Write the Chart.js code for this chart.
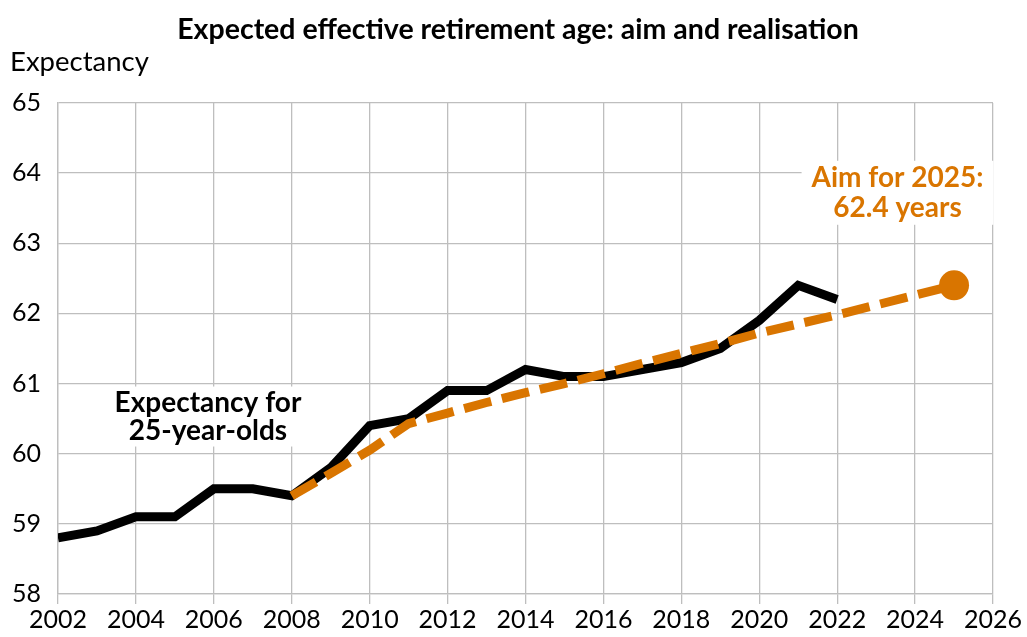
<!DOCTYPE html>
<html>
<head>
<meta charset="utf-8">
<script src="https://cdn.jsdelivr.net/npm/chart.js@4/dist/chart.umd.min.js"></script>
<style>
  html, body { margin: 0; padding: 0; background: #fff; overflow: hidden; }
  canvas { display: block; }
</style>
</head>
<body>
<canvas id="chart" width="1027" height="637"></canvas>
<script>
// data
var actualYears = [2002, 2003, 2004, 2005, 2006, 2007, 2008, 2009, 2010, 2011, 2012,
                   2013, 2014, 2015, 2016, 2017, 2018, 2019, 2020, 2021, 2022];
var actualValues = [58.8, 58.9, 59.1, 59.1, 59.5, 59.5, 59.4, 59.8, 60.4, 60.5, 60.9,
                    60.9, 61.2, 61.1, 61.1, 61.2, 61.3, 61.5, 61.9, 62.4, 62.2];
var aimYears = [2008, 2009, 2010, 2011, 2012, 2013, 2014, 2015, 2016, 2017,
                2018, 2019, 2020, 2021, 2022, 2023, 2024, 2025];
var aimValues = [59.4, 59.72, 60.05, 60.43, 60.58, 60.73, 60.87, 61.0, 61.14, 61.29,
                 61.43, 61.57, 61.72, 61.85, 61.98, 62.12, 62.26, 62.4];

var chartTitle = 'Expected effective retirement age: aim and realisation';
var yAxisLabel = 'Expectancy';
var actualLabel = ['Expectancy for', '25-year-olds'];
var actualLabelAt = [2005.85, 60.53];
var aimLabel = ['Aim for 2025:', '62.4 years'];
var aimLabelAt = [2023.55, 63.72];

var orange = 'rgb(217,117,0)';
var gridGray = 'rgb(190,190,190)';
var font = 'Lato, "Open Sans", sans-serif';

function toPoints(xs, ys) {
  var pts = [];
  for (let i = 0; i < xs.length; i++) pts.push({x: xs[i], y: ys[i]});
  return pts;
}

// title, axis caption and the two text boxes
var textPlugin = {
  id: 'texts',
  afterDraw: function (chart) {
    var c = chart.ctx;
    var xs = chart.scales.x, ys = chart.scales.y;
    c.save();
    c.textBaseline = 'middle';
    c.textAlign = 'center';
    c.fillStyle = '#000';
    c.font = 'bold 28.5px ' + font;
    c.fillText(chartTitle, 518, 30);

    c.textAlign = 'left';
    c.font = '27.5px ' + font;
    c.fillText(yAxisLabel, 10, 62);

    function box(lines, at, color, lh) {
      var cx = xs.getPixelForValue(at[0]);
      var cy = ys.getPixelForValue(at[1]);
      c.font = 'bold 28px ' + font;
      var w = 0;
      lines.forEach(function (l) { w = Math.max(w, c.measureText(l).width); });
      var h = lh * lines.length;
      c.fillStyle = '#fff';
      c.fillRect(cx - w / 2 - 10, cy - h / 2 - 2, w + 20, h + 4);
      c.fillStyle = color;
      c.textAlign = 'center';
      lines.forEach(function (l, i) {
        c.fillText(l, cx, cy - h / 2 + lh * (i + 0.5));
      });
    }
    box(actualLabel, actualLabelAt, '#000', 28);
    box(aimLabel, aimLabelAt, orange, 30);
    c.restore();
  }
};

var ctx = document.getElementById('chart').getContext('2d');
var chart = new Chart(ctx, {
  type: 'line',
  data: {
    datasets: [
      {
        label: 'Aim',
        data: toPoints(aimYears, aimValues),
        borderColor: orange,
        backgroundColor: orange,
        borderWidth: 9,
        borderDash: [28, 11],
        borderCapStyle: 'butt',
        pointRadius: function (c) { return c.dataIndex === aimYears.length - 1 ? 15 : 0; },
        pointBorderWidth: 0,
        order: 0
      },
      {
        label: 'Expectancy for 25-year-olds',
        data: toPoints(actualYears, actualValues),
        borderColor: '#000',
        backgroundColor: '#000',
        borderWidth: 9,
        pointRadius: 0,
        order: 1
      }
    ]
  },
  options: {
    responsive: false,
    animation: false,
    devicePixelRatio: 1,
    layout: { padding: { top: 103, right: 34, left: 0, bottom: 0 } },
    plugins: { legend: { display: false }, tooltip: { enabled: false }, title: { display: false } },
    scales: {
      x: {
        type: 'linear',
        min: 2002, max: 2026,
        ticks: { stepSize: 2, color: '#000', font: { family: font, size: 25 }, padding: 1,
                 maxRotation: 0, callback: function (v) { return String(v); } },
        grid: { color: gridGray, lineWidth: 1.3, tickLength: 10 },
        border: { color: gridGray, width: 1.3 },
        afterFit: function (s) { s.height = 43; }
      },
      y: {
        min: 58, max: 65,
        ticks: { stepSize: 1, color: '#000', font: { family: font, size: 25 }, padding: 17 },
        grid: { color: gridGray, lineWidth: 1.3, tickLength: 0 },
        border: { color: gridGray, width: 1.3 },
        afterFit: function (s) { s.width = 58; }
      }
    }
  },
  plugins: [textPlugin]
});
</script>
</body>
</html>
